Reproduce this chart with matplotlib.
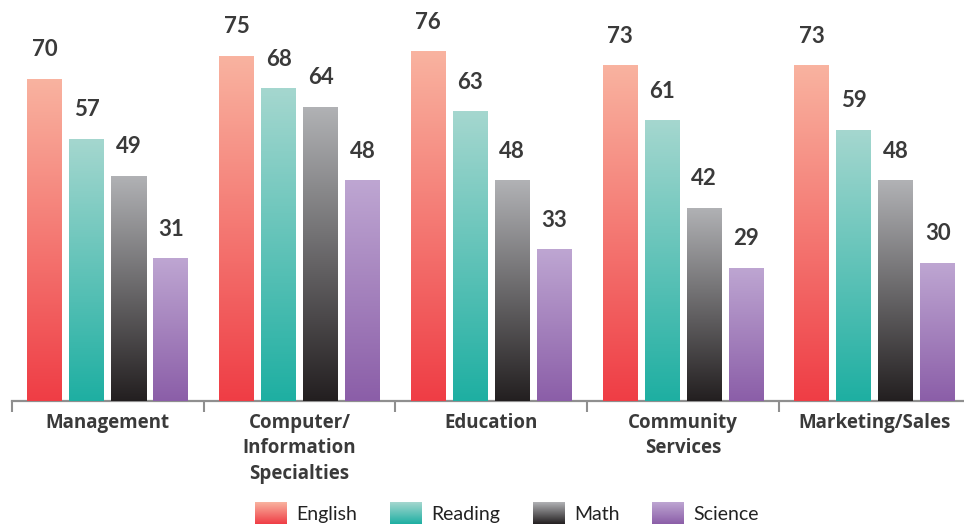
import numpy as np
import matplotlib
matplotlib.use("Agg")
import matplotlib.pyplot as plt
from matplotlib.colors import to_rgb
from matplotlib.legend_handler import HandlerBase
from matplotlib.image import BboxImage
from matplotlib.transforms import Bbox, TransformedBbox
from matplotlib.patches import Rectangle

categories = ["Management", "Computer/\nInformation\nSpecialties", "Education",
              "Community\nServices", "Marketing/Sales"]
series = ["English", "Reading", "Math", "Science"]
english = [70, 75, 76, 73, 73]
reading = [57, 68, 63, 61, 59]
math_ = [49, 64, 48, 42, 48]
science = [31, 48, 33, 29, 30]
values = [english, reading, math_, science]

top_colors = ["#F9B3A0", "#A5D7CF", "#B1B2B5", "#BEA6D2"]
bottom_colors = ["#EF3D45", "#1EAFA2", "#231F20", "#8B5EA8"]

plt.rcParams['font.family'] = ['Lato', 'DejaVu Sans']
W, H = 964, 525
fig = plt.figure(figsize=(W / 100, H / 100), dpi=100)

pitch_px = 191.75
left_px = 12
axis_y_px = 401
px_per_unit = 4.6
ax = fig.add_axes([left_px / W, (H - axis_y_px) / H, (W - left_px) / W, axis_y_px / H])


def grad(top, bottom, n=256):
    t = np.linspace(0, 1, n)[:, None, None]
    a = np.array(to_rgb(top))[None, None, :]
    b = np.array(to_rgb(bottom))[None, None, :]
    return a * (1 - t) + b * t


x = np.arange(len(categories))
bw = 35 / pitch_px
step = 42 / pitch_px
offsets = (np.arange(4) - 1.5) * step
for i, vals in enumerate(values):
    bars = ax.bar(x + offsets[i], vals, width=bw, color=bottom_colors[i], zorder=2)
    g = grad(top_colors[i], bottom_colors[i])
    for b, v in zip(bars, vals):
        x0 = b.get_x()
        im = ax.imshow(g, extent=[x0, x0 + b.get_width(), 0, v], aspect='auto',
                       origin='upper', zorder=3, interpolation='bilinear')
        im.set_clip_path(b)
        ax.annotate(str(v), (x0 + b.get_width() / 2, v), xytext=(0, 21),
                    textcoords='offset points', ha='center', va='center',
                    fontsize=16, fontweight='bold', color='#3a3a3a')

ax.set_xlim(-0.5, -0.5 + (W - left_px) / pitch_px)
ax.set_ylim(0, axis_y_px / px_per_unit)

for s in ['top', 'right', 'left']:
    ax.spines[s].set_visible(False)
ax.spines['bottom'].set_color('#8f8f8f')
ax.spines['bottom'].set_linewidth(1.6)
ax.set_yticks([])
ax.set_xticks(x)
ax.set_xticklabels(categories, fontsize=13.5, fontweight='bold', color='#3a3a3a',
                   linespacing=1.36, family=['Open Sans', 'DejaVu Sans'])
ax.tick_params(axis='x', which='major', length=0, pad=8.5)
ax.set_xticks(np.arange(len(categories)) - 0.5, minor=True)
ax.tick_params(axis='x', which='minor', length=8, width=1.5, color='#8f8f8f',
               direction='out')


class GradHandler(HandlerBase):
    def __init__(self, top, bottom):
        super().__init__()
        self.top = top
        self.bottom = bottom

    def create_artists(self, legend, orig_handle, xdescent, ydescent, width,
                       height, fontsize, trans):
        bb = Bbox.from_bounds(-xdescent, -ydescent, width, height)
        tbb = TransformedBbox(bb, trans)
        img = BboxImage(tbb, interpolation='bilinear')
        img.set_data(grad(self.top, self.bottom))
        return [img]


handles = [Rectangle((0, 0), 1, 1, color=c) for c in bottom_colors]
hmap = {h: GradHandler(t, b) for h, t, b in zip(handles, top_colors, bottom_colors)}
fig.legend(handles, series, loc='center', bbox_to_anchor=(0.526, 1 - 513 / H),
           ncol=4, frameon=False, fontsize=14, handler_map=hmap,
           handlelength=1.6, handleheight=1.3, handletextpad=0.5,
           columnspacing=1.7, labelcolor='#222222')

fig.savefig("out.png", dpi=100)
